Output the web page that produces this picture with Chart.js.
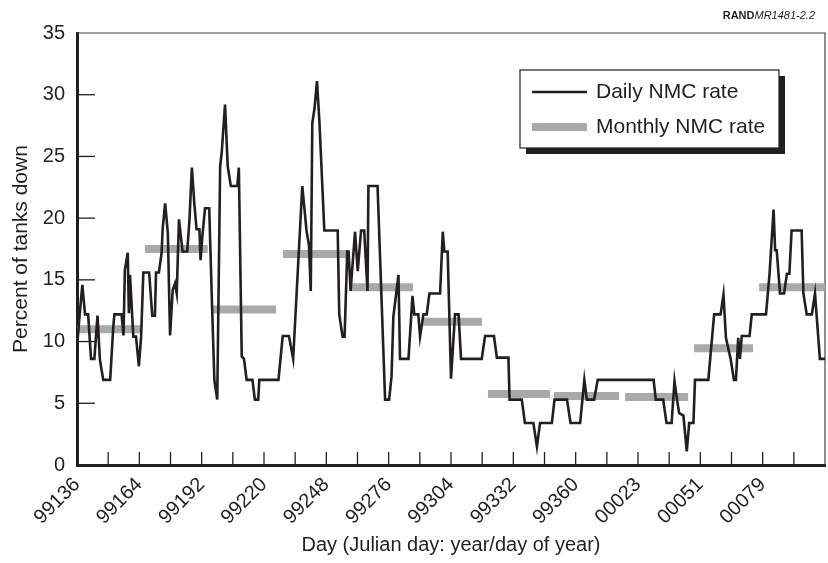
<!DOCTYPE html>
<html>
<head>
<meta charset="utf-8">
<script src="https://cdn.jsdelivr.net/npm/chart.js@4.4.1/dist/chart.umd.min.js"></script>
<style>
  html, body { margin: 0; padding: 0; background: #fff; }
  #wrap { width: 828px; height: 563px; }
</style>
</head>
<body>
<div id="wrap"><canvas id="chart" width="828" height="563"></canvas></div>
<script>
// tick labels, one every 28 days (Julian yyddd)
const dayLabels = ["99136", "99164", "99192", "99220", "99248", "99276",
  "99304", "99332", "99360", "00023", "00051", "00079"];

// daily NMC rate: days since 99136, percent down
const dailyDays = [
  0, 1.1, 2.4, 3.6, 5.0, 6.3, 7.8, 9.2, 10.3, 11.8,
  14.9, 16.3, 16.8, 20.0, 20.9, 21.5, 22.8, 23.3, 23.8, 25.3,
  26.5, 27.8, 28.8, 29.8, 32.4, 33.8, 35.0, 35.5, 36.8, 38.0,
  38.5, 39.6, 40.8, 41.8, 43.0, 44.0, 44.8, 45.8, 47.4, 49.5,
  50.5, 51.6, 52.7, 53.7, 55.0, 55.5, 56.3, 57.5, 59.4, 60.5,
  61.7, 63.0, 64.3, 65.0, 66.5, 67.7, 69.1, 72.0, 72.7, 74.0,
  75.0, 76.2, 78.8, 79.9, 81.4, 81.9, 90.5, 92.4, 95.2, 97.1,
  101.2, 103.1, 104.2, 105.0, 105.7, 106.7, 107.8, 108.9, 111.1, 117.1,
  117.8, 119.3, 120.2, 121.4, 122.0, 122.9, 124.9, 126.1, 127.6, 129.0,
  130.5, 130.9, 135.0, 138.4, 140.2, 141.3, 142.1, 144.4, 145.1, 148.9,
  150.7, 151.5, 153.3, 154.1, 155.6, 157.1, 158.3, 163.1, 164.3, 165.0,
  166.5, 168.0, 169.8, 171.4, 172.5, 181.8, 183.3, 187.3, 188.6, 193.8,
  194.3, 199.8, 201.2, 205.0, 206.6, 208.0, 213.3, 214.5, 220.1, 221.7,
  226.0, 227.9, 229.0, 232.3, 233.9, 259.0, 260.0, 263.3, 264.8, 267.1,
  268.4, 269.5, 270.5, 272.4, 273.9, 275.0, 276.9, 277.6, 283.6, 286.2,
  289.1, 290.4, 291.5, 293.6, 295.1, 296.0, 297.0, 297.8, 298.6, 302.1,
  303.1, 309.5, 311.1, 312.9, 313.6, 314.3, 315.8, 317.6, 318.9, 320.0,
  321.0, 325.5, 326.3, 327.8, 330.1, 331.5, 333.7, 336.0
];
const dailyRates = [
  9.5, 12.0, 14.6, 12.2, 12.2, 8.6, 8.6, 12.1, 8.5, 6.9,
  6.9, 11.2, 12.2, 12.2, 10.5, 15.8, 17.2, 12.3, 15.4, 10.4,
  10.4, 8.0, 10.4, 15.6, 15.6, 12.1, 12.1, 15.6, 15.6, 17.2,
  19.2, 21.2, 18.8, 10.5, 14.2, 14.7, 13.9, 19.9, 17.3, 17.3,
  19.8, 24.1, 21.2, 19.1, 19.1, 16.6, 18.5, 20.8, 20.8, 13.9,
  6.9, 5.3, 24.2, 25.3, 29.2, 24.2, 22.6, 22.6, 24.1, 8.8,
  8.6, 6.9, 6.9, 5.3, 5.3, 6.9, 6.9, 10.45, 10.45, 8.6,
  22.6, 19.0, 17.8, 14.1, 27.7, 28.9, 31.1, 27.8, 19.0, 19.0,
  12.2, 10.4, 10.4, 17.3, 17.3, 14.1, 18.9, 15.7, 19.0, 19.0,
  14.1, 22.6, 22.6, 5.3, 5.3, 7.2, 12.0, 15.4, 8.6, 8.6,
  13.7, 12.2, 12.2, 10.4, 12.2, 12.2, 13.9, 13.9, 18.9, 17.3,
  17.3, 7.0, 12.2, 12.2, 8.6, 8.6, 10.45, 10.45, 8.7, 8.7,
  5.3, 5.3, 3.4, 3.4, 1.5, 3.4, 3.4, 5.3, 5.3, 3.4,
  3.4, 6.9, 5.3, 5.3, 6.9, 6.9, 5.3, 5.3, 3.4, 3.4,
  6.8, 5.3, 4.2, 4.0, 1.1, 3.4, 3.4, 6.9, 6.9, 12.2,
  12.2, 13.8, 10.3, 8.6, 6.9, 6.9, 10.3, 8.6, 10.45, 10.45,
  12.2, 12.2, 15.5, 20.7, 17.4, 17.4, 13.9, 13.9, 15.5, 15.5,
  19.0, 19.0, 13.9, 12.2, 12.2, 13.9, 8.6, 8.6
];

// monthly NMC rate: each one runs from start day to end day
const monthStart = [0, 30.5, 61.1, 92.5, 122.6, 155.4, 184.6, 214.3, 246.2, 277.2, 306.4];
const monthEnd = [28.3, 58.7, 89.4, 121.7, 150.9, 181.9, 212.5, 243.5, 274.5, 303.7, 336];
const monthRates = [11.0, 17.5, 12.6, 17.1, 14.4, 11.6, 5.75, 5.6, 5.5, 9.45, 14.4];

const ink = "#231f20";
const grey = "#a7a9ac";
const fontFamily = "'Liberation Sans', Arial, Helvetica, sans-serif";

const dailyPoints = dailyDays.map((d, i) => ({ x: d, y: dailyRates[i] }));
const monthPoints = [];
monthRates.forEach((v, i) => {
  monthPoints.push({ x: monthStart[i], y: v });
  monthPoints.push({ x: monthEnd[i], y: v });
  monthPoints.push({ x: monthEnd[i] + 0.01, y: null });
});

// inner ticks, top/right frame, boxed legend and the figure id
const decorations = {
  id: "decorations",
  beforeDatasetsDraw(chart) {
    const ctx = chart.ctx;
    const area = chart.chartArea;
    const xs = chart.scales.x;
    const ys = chart.scales.y;
    ctx.save();
    ctx.strokeStyle = ink;
    ctx.lineWidth = 1.3;
    xs.ticks.forEach(t => {
      const px = xs.getPixelForValue(t.value);
      if (px <= area.left + 2 || px >= area.right - 2) return;
      ctx.beginPath();
      ctx.moveTo(px, area.bottom);
      ctx.lineTo(px, area.bottom - 13);
      ctx.stroke();
    });
    ys.ticks.forEach(t => {
      const py = ys.getPixelForValue(t.value);
      if (py <= area.top + 2 || py >= area.bottom - 2) return;
      ctx.beginPath();
      ctx.moveTo(area.left, py);
      ctx.lineTo(area.left + 18, py);
      ctx.stroke();
    });
    ctx.strokeStyle = "#444";
    ctx.lineWidth = 1.2;
    ctx.beginPath();
    ctx.moveTo(area.left, area.top);
    ctx.lineTo(area.right, area.top);
    ctx.lineTo(area.right, area.bottom);
    ctx.stroke();
    ctx.restore();
  },
  afterDraw(chart) {
    const ctx = chart.ctx;
    ctx.save();
    // legend box with drop shadow
    const bx = 520, by = 70, bw = 259, bh = 78;
    ctx.fillStyle = ink;
    ctx.fillRect(bx + 6, by + 6, bw, bh);
    ctx.fillStyle = "#fff";
    ctx.fillRect(bx, by, bw, bh);
    ctx.strokeStyle = ink;
    ctx.lineWidth = 1.2;
    ctx.strokeRect(bx, by, bw, bh);
    ctx.lineCap = "butt";
    ctx.strokeStyle = ink;
    ctx.lineWidth = 2.6;
    ctx.beginPath();
    ctx.moveTo(532, 92);
    ctx.lineTo(587, 92);
    ctx.stroke();
    ctx.strokeStyle = grey;
    ctx.lineWidth = 8;
    ctx.beginPath();
    ctx.moveTo(532, 127);
    ctx.lineTo(587, 127);
    ctx.stroke();
    ctx.fillStyle = ink;
    ctx.font = "21px " + fontFamily;
    ctx.textBaseline = "middle";
    ctx.textAlign = "left";
    ctx.fillText("Daily NMC rate", 596, 92);
    ctx.fillText("Monthly NMC rate", 596, 127);
    // figure id
    ctx.textBaseline = "alphabetic";
    ctx.textAlign = "right";
    ctx.font = "italic 11px " + fontFamily;
    ctx.fillText("MR1481-2.2", 815, 19);
    const w = ctx.measureText("MR1481-2.2").width;
    ctx.font = "bold 11px " + fontFamily;
    ctx.fillText("RAND", 815 - w, 19);
    ctx.restore();
  }
};

new Chart(document.getElementById("chart"), {
  type: "line",
  data: {
    datasets: [
      {
        label: "Daily NMC rate",
        data: dailyPoints,
        borderColor: ink,
        borderWidth: 2.6,
        borderJoinStyle: "miter",
        pointRadius: 0,
        tension: 0,
        order: 0
      },
      {
        label: "Monthly NMC rate",
        data: monthPoints,
        borderColor: grey,
        borderWidth: 8,
        borderCapStyle: "butt",
        pointRadius: 0,
        spanGaps: false,
        order: 1
      }
    ]
  },
  options: {
    responsive: false,
    animation: false,
    layout: { padding: { left: 0, right: 3, top: 33, bottom: 0 } },
    plugins: { legend: { display: false }, tooltip: { enabled: false } },
    scales: {
      x: {
        type: "linear",
        min: 0,
        max: 336,
        afterFit: s => { s.height = 98; s.paddingLeft = 0; s.paddingRight = 0; },
        grid: { drawOnChartArea: false, drawTicks: false },
        border: { color: ink, width: 3 },
        ticks: {
          stepSize: 14,
          autoSkip: false,
          maxRotation: 45,
          minRotation: 45,
          padding: 8,
          color: ink,
          font: { family: fontFamily, size: 20 },
          callback: v => (v % 28 === 0 && dayLabels[v / 28]) ? dayLabels[v / 28] : ""
        },
        title: {
          display: true,
          text: "Day (Julian day: year/day of year)",
          color: ink,
          font: { family: fontFamily, size: 20 },
          padding: { top: 0, bottom: 6 }
        }
      },
      y: {
        min: 0,
        max: 35,
        afterFit: s => { s.width = 77; },
        grid: { drawOnChartArea: false, drawTicks: false },
        border: { color: ink, width: 3 },
        ticks: {
          stepSize: 5,
          padding: 12,
          color: ink,
          font: { family: fontFamily, size: 20 }
        },
        title: {
          display: true,
          text: "Percent of tanks down",
          color: ink,
          font: { family: fontFamily, size: 21 },
          padding: { top: 9, bottom: 0 }
        }
      }
    }
  },
  plugins: [decorations]
});
</script>
</body>
</html>
